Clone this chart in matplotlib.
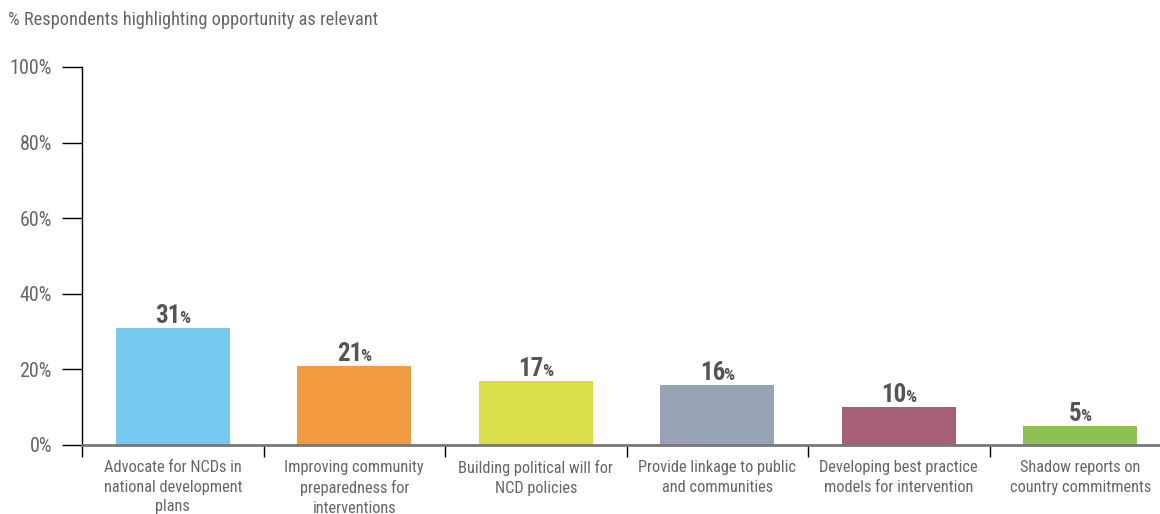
import matplotlib
matplotlib.use("Agg")
import matplotlib.pyplot as plt
from matplotlib.ticker import FixedLocator

plt.rcParams['font.family'] = ['Roboto Condensed', 'DejaVu Sans']

# survey results
categories = [
    "Advocate for NCDs in\nnational development\nplans",
    "Improving community\npreparedness for\ninterventions",
    "Building political will for\nNCD policies",
    "Provide linkage to public\nand communities",
    "Developing best practice\nmodels for intervention",
    "Shadow reports on\ncountry commitments",
]
values = [31, 21, 17, 16, 10, 5]
colors = ["#76C9EF", "#F29A3F", "#D9DE4A", "#97A2B4", "#A56078", "#8EC152"]
yticks = [0, 20, 40, 60, 80, 100]

txt = "#666666"
px = 72 / 100  # points per pixel at dpi 100

fig = plt.figure(figsize=(11.6, 5.14), dpi=100)
ax = fig.add_axes([82/1160, 69/514, 1078/1160, 378/514])

x = list(range(len(values)))
ax.bar(x, values, width=0.63, color=colors, zorder=2)

ax.set_ylim(0, 100)
ax.set_xlim(-0.5, -0.5 + 1078/181.5)

ax.set_yticks(yticks)
ax.set_yticklabels([f"{v}%" for v in yticks], fontsize=14.5, color=txt)
ax.tick_params(axis='y', length=20*px, width=1, color='black', pad=10*px)

ax.set_xticks(x)
ax.set_xticklabels(categories, fontsize=11.8, color=txt, linespacing=1.38, va='top')
ax.tick_params(axis='x', which='major', length=0, pad=15*px)
ax.xaxis.set_minor_locator(FixedLocator([i - 0.5 for i in range(len(values) + 1)]))
ax.tick_params(axis='x', which='minor', length=12*px, width=1, color='black')

for s in ['top', 'right']:
    ax.spines[s].set_visible(False)
ax.spines['left'].set_color('black')
ax.spines['left'].set_linewidth(1)
ax.spines['bottom'].set_color('#777777')
ax.spines['bottom'].set_linewidth(2)
ax.spines['bottom'].set_zorder(3)

fig.text(8/1160, 1 - 20/514, "% Respondents highlighting opportunity as relevant",
         fontsize=13.2, color=txt, va='center', ha='left')

# value labels: bold number with a smaller percent sign, centred over the bar
fig.canvas.draw()
r = fig.canvas.get_renderer()
gap = 5 * px
for xi, v in zip(x, values):
    t1 = ax.annotate(str(v), (xi, v), xytext=(0, gap), textcoords='offset points',
                     ha='left', va='baseline', fontsize=18, fontweight='bold', color='#555555')
    t2 = ax.annotate("%", (xi, v), xytext=(0, gap), textcoords='offset points',
                     ha='left', va='baseline', fontsize=12.5, fontweight='bold', color='#555555')
    w1 = t1.get_window_extent(r).width
    w2 = t2.get_window_extent(r).width
    total = w1 + w2 - 2
    start = -total / 2 * px
    t1.set_position((start, gap))
    t2.set_position((start + (w1 - 2) * px, gap))

fig.savefig("out.png", dpi=100)
